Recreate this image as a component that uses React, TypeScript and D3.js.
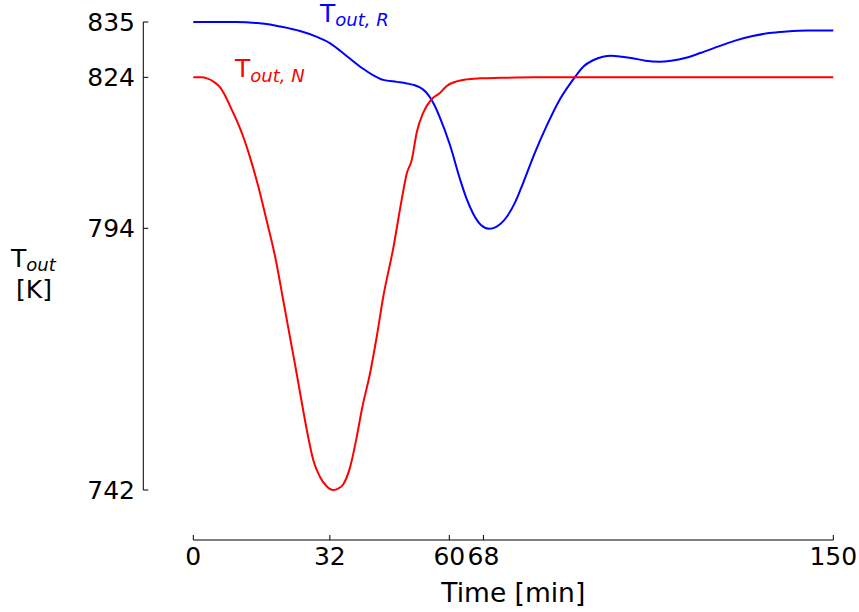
import React from "react";
import * as d3 from "d3";

// Outlet temperature traces (time in minutes, temperature in K)
const timeR = [0, 10, 15, 18, 20.4, 25, 28.5, 32, 36, 39.8, 42, 44.5, 47.7, 50, 51.6, 53.1, 54.5, 55.5, 56.5, 57.8, 60.1, 62.5, 64, 65.6, 67.5, 69.3, 71, 73.4, 75.5, 77.3, 80, 83, 85.9, 89.4, 91.5, 93.7, 96, 98, 100.5, 103, 106, 109.3, 112, 115.5, 119, 123.3, 127, 131.1, 135, 139, 144, 150];
const tempR = [835, 835, 834.8, 834.5, 834.1, 833.2, 832.2, 830.8, 828.2, 825.7, 824.5, 823.5, 823.1, 822.8, 822.5, 822, 821.1, 820, 818.5, 816, 810.7, 803.8, 800, 796.9, 794.6, 793.9, 794.3, 796.2, 799.3, 803, 808.9, 814.7, 819.6, 824, 826.2, 827.4, 828.1, 828.3, 828.1, 827.8, 827.3, 827.1, 827.3, 827.9, 828.9, 830.2, 831.3, 832.2, 832.8, 833.1, 833.3, 833.3];

const timeN = [0, 2, 3.2, 5, 6.3, 7.5, 9, 10.6, 12, 13.3, 15.3, 17.2, 19.2, 21.1, 22.7, 24.3, 25.8, 27, 28.2, 29.7, 31.2, 32.8, 34, 35.2, 36.7, 38.3, 39.5, 41.4, 43, 44.5, 46.9, 48.8, 50, 51.2, 52.4, 53.9, 55.9, 57.8, 59.4, 61.7, 64, 67.2, 72, 80, 150];
const tempN = [824, 824, 823.8, 823, 822, 820.3, 817.6, 814.6, 811.5, 808.1, 802.1, 795.5, 788.3, 779.6, 772.2, 764.8, 757.6, 752.2, 747.7, 744.6, 742.8, 742, 742.3, 743.2, 746.4, 752.5, 758, 765.1, 772.5, 780.3, 790.2, 799.5, 804.8, 807.6, 813.2, 817, 819.7, 820.9, 822.3, 823.2, 823.6, 823.8, 823.9, 824, 824];

const xTicks = [0, 32, 60, 68, 150];
const yTicks = [742, 794, 824, 835];

const FONT = "DejaVu Sans";

export default function App() {
  const x = d3.scaleLinear().domain([0, 150]).range([193.3, 833.3]);
  const y = d3.scaleLinear().domain([742, 835]).range([490, 22]);

  const line = d3
    .line<[number, number]>()
    .x((d) => x(d[0]))
    .y((d) => y(d[1]))
    .curve(d3.curveMonotoneX);

  const seriesR: [number, number][] = timeR.map((t, i) => [t, tempR[i]]);
  const seriesN: [number, number][] = timeN.map((t, i) => [t, tempN[i]]);

  const xAxisY = 540;
  const yAxisX = 143.3;
  const tickLen = 5;

  return (
    <svg
      width={859}
      height={612}
      style={{ position: "absolute", left: 0, top: 0, background: "#fff" }}
      fontFamily={FONT}
    >
      <rect width={859} height={612} fill="#fff" />

      {/* y axis */}
      <line x1={yAxisX} x2={yAxisX} y1={y(835)} y2={y(742)} stroke="#000" strokeWidth={1} />
      {yTicks.map((v) => (
        <g key={v}>
          <line x1={yAxisX} x2={yAxisX + tickLen} y1={y(v)} y2={y(v)} stroke="#000" strokeWidth={1} />
          <text x={135} y={y(v)} dy="0.36em" textAnchor="end" fontSize={25} fill="#000">
            {v}
          </text>
        </g>
      ))}

      {/* x axis */}
      <line x1={x(0)} x2={x(150)} y1={xAxisY} y2={xAxisY} stroke="#000" strokeWidth={1} />
      {xTicks.map((v) => (
        <g key={v}>
          <line x1={x(v)} x2={x(v)} y1={xAxisY} y2={xAxisY - tickLen} stroke="#000" strokeWidth={1} />
          <text x={x(v)} y={565} textAnchor="middle" fontSize={25} fill="#000">
            {v}
          </text>
        </g>
      ))}

      {/* axis titles */}
      <text x={(x(0) + x(150)) / 2} y={602} textAnchor="middle" fontSize={26.5} fill="#000">
        Time [min]
      </text>
      <text x={11} y={267} fontSize={25} fill="#000">
        T
        <tspan fontSize={18} fontStyle="italic" dy={4}>
          out
        </tspan>
      </text>
      <text x={34} y={298} textAnchor="middle" fontSize={25} fill="#000">
        [K]
      </text>

      {/* curves */}
      <path d={line(seriesR) ?? ""} fill="none" stroke="#0000ff" strokeWidth={2} />
      <path d={line(seriesN) ?? ""} fill="none" stroke="#ff0000" strokeWidth={2} />

      {/* series labels */}
      <text x={320} y={22} fontSize={25} fill="#0000ff">
        T
        <tspan fontSize={18} fontStyle="italic" dy={3.8}>
          out, R
        </tspan>
      </text>
      <text x={235} y={77} fontSize={25} fill="#ff0000">
        T
        <tspan fontSize={18} fontStyle="italic" dy={4.8}>
          out, N
        </tspan>
      </text>
    </svg>
  );
}
